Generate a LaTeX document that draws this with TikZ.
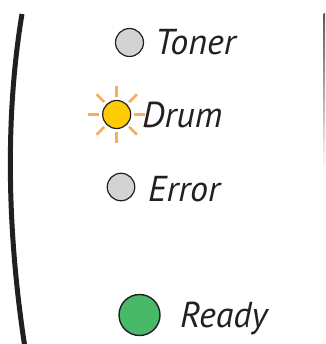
\documentclass[tikz,border=0pt]{standalone}
\usepackage{fontspec}
\newfontfamily\ledfont{PT Sans}
\usetikzlibrary{calc}
\definecolor{ink}{HTML}{231F20}
\definecolor{ledgray}{HTML}{D1D3D4}
\definecolor{ledyellow}{HTML}{FFCB05}
\definecolor{ledgreen}{HTML}{48B869}
\definecolor{rayorange}{HTML}{F7AD5A}
\tikzset{
  led/.style={circle,draw=ink,line width=1.2pt,inner sep=0pt,minimum size=#1},
  lbl/.style={anchor=base west,inner sep=0pt,text=ink,font=\ledfont\itshape\fontsize{36}{36}\selectfont},
  ray/.style={draw=rayorange,line width=2.6pt},
}
\begin{document}
\begin{tikzpicture}[x=1pt,y=-1pt]
\useasboundingbox (0,0) rectangle (325,344);
% frame pieces
\draw[ink,line width=5pt] (22,14) .. controls (6,110) and (6,225) .. (25,348);
\shade[top color=black!65,bottom color=white] (323.6,14) rectangle (325,172);
% LEDs
\node[led=28pt,fill=ledgray] (toner) at (129.5,42.5) {};
\node[led=28pt,fill=ledyellow] (drum) at (116.7,114.5) {};
\node[led=27.5pt,fill=ledgray] (error) at (121,187) {};
\node[led=41pt,fill=ledgreen,line width=1.4pt] (ready) at (139.5,315) {};
\foreach \a in {0,45,...,315}
  \draw[ray] ($(drum.center)+(\a:17.5)$) -- ($(drum.center)+(\a:28.5)$);
% labels
\node[lbl] (tonerlbl) at (155,55) {Toner};
\node[lbl] (drumlbl) at (142,127.5) {Drum};
\node[lbl] (errorlbl) at (148,201) {Error};
\node[lbl] (readylbl) at (180,327.3) {Ready};
\end{tikzpicture}
\end{document}
